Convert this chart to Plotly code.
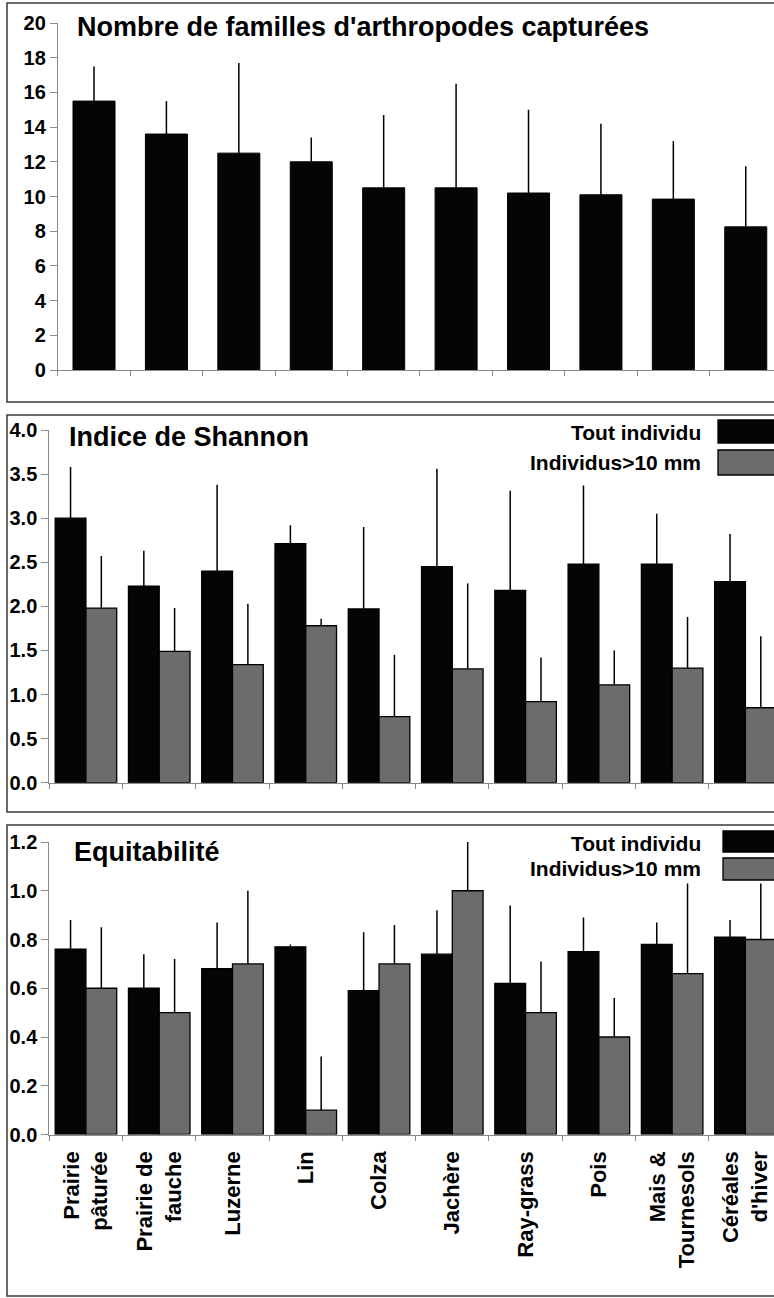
import plotly.graph_objects as go

# ---------------- data ----------------
categories = ["Prairie<br>pâturée", "Prairie de<br>fauche", "Luzerne", "Lin", "Colza",
              "Jachère", "Ray-grass", "Pois", "Mais &<br>Tournesols", "Céréales<br>d'hiver"]

familles = [15.5, 13.6, 12.5, 12.0, 10.5, 10.5, 10.2, 10.1, 9.85, 8.25]
familles_err = [2.0, 1.9, 5.2, 1.4, 4.2, 6.0, 4.8, 4.1, 3.35, 3.5]

shannon_tout = [3.0, 2.23, 2.40, 2.71, 1.97, 2.45, 2.18, 2.48, 2.48, 2.28]
shannon_tout_err = [0.58, 0.40, 0.98, 0.21, 0.93, 1.11, 1.13, 0.89, 0.57, 0.54]
shannon_10mm = [1.98, 1.49, 1.34, 1.78, 0.75, 1.29, 0.92, 1.11, 1.30, 0.85]
shannon_10mm_err = [0.59, 0.49, 0.69, 0.08, 0.70, 0.97, 0.50, 0.39, 0.58, 0.81]

equit_tout = [0.76, 0.60, 0.68, 0.77, 0.59, 0.74, 0.62, 0.75, 0.78, 0.81]
equit_tout_err = [0.12, 0.14, 0.19, 0.01, 0.24, 0.18, 0.32, 0.14, 0.09, 0.07]
equit_10mm = [0.60, 0.50, 0.70, 0.10, 0.70, 1.00, 0.50, 0.40, 0.66, 0.80]
equit_10mm_err = [0.25, 0.22, 0.30, 0.22, 0.16, 0.21, 0.21, 0.16, 0.37, 0.23]

titles = ["Nombre de familles d'arthropodes capturées", "Indice de Shannon", "Equitabilité"]
legend_labels = ["Tout individu", "Individus>10 mm"]

# ---------------- style ----------------
W, H = 774, 1298
FONT = "Liberation Sans, Arial, Helvetica, sans-serif"
BLACK = "#050505"
GRAY = "#6c6c6c"
AXIS = "#8a8a8a"


def py(p):
    return 1 - p / H


def px(p):
    return p / W


zeros = [0] * len(categories)

fig = go.Figure()


def err(arr):
    return dict(type="data", symmetric=False, array=arr, arrayminus=zeros,
                color="black", thickness=1.5, width=0)


fig.add_trace(go.Bar(x=categories, y=familles, width=0.58, marker=dict(color=BLACK, line=dict(color="black", width=1)),
                     error_y=err(familles_err), xaxis="x", yaxis="y", showlegend=False))

for (vals, errs, color, off, xa, ya) in [
    (shannon_tout, shannon_tout_err, BLACK, -0.42, "x2", "y2"),
    (shannon_10mm, shannon_10mm_err, GRAY, 0.0, "x2", "y2"),
    (equit_tout, equit_tout_err, BLACK, -0.42, "x3", "y3"),
    (equit_10mm, equit_10mm_err, GRAY, 0.0, "x3", "y3"),
]:
    fig.add_trace(go.Bar(x=categories, y=vals, width=0.42, offset=off,
                         marker=dict(color=color, line=dict(color="black", width=1.3)),
                         error_y=err(errs), xaxis=xa, yaxis=ya, showlegend=False))

tickfont = dict(family=FONT, size=20, color="black", weight="bold")
xrange_ = [-0.5, 9.39]

common_x = dict(type="category", range=xrange_, showline=True, linecolor=AXIS, linewidth=1,
                ticks="outside", tickson="boundaries", ticklen=5, tickcolor=AXIS,
                showgrid=False, zeroline=False, fixedrange=True, automargin=False)
common_y = dict(showline=True, linecolor=AXIS, linewidth=1, ticks="outside", ticklen=7,
                tickcolor=AXIS, showgrid=False, zeroline=False, tickfont=tickfont, automargin=False)

fig.update_layout(
    template="none",
    width=W, height=H,
    margin=dict(l=0, r=0, t=0, b=0, autoexpand=False),
    paper_bgcolor="white", plot_bgcolor="white",
    barmode="overlay",
    xaxis=dict(common_x, domain=[px(57.8), 1], anchor="y", showticklabels=False),
    yaxis=dict(common_y, domain=[py(370), py(23)], anchor="x", range=[0, 20], dtick=2),
    xaxis2=dict(common_x, domain=[px(49.3), 1], anchor="y2", showticklabels=False),
    yaxis2=dict(common_y, domain=[py(782.7), py(430)], anchor="x2", range=[0, 4], dtick=0.5, tickformat=".1f"),
    xaxis3=dict(common_x, domain=[px(49.3), 1], anchor="y3", showticklabels=True, tickangle=-90,
                ticklabelstandoff=7,
                tickfont=dict(family=FONT, size=22, color="black", weight="bold")),
    yaxis3=dict(common_y, domain=[py(1134.5), py(842)], anchor="x3", range=[0, 1.2], dtick=0.2, tickformat=".1f"),
)

# panel frames
shapes = []
for top, bot in [(3, 402), (415, 812), (825, 1296)]:
    shapes.append(dict(type="rect", xref="paper", yref="paper", x0=px(7), x1=1.01, y0=py(bot), y1=py(top),
                       line=dict(color="#3a3a3a", width=1.5), fillcolor="rgba(0,0,0,0)", layer="below"))

annotations = []
for t, x0, yc in zip(titles, [75, 67, 72], [27, 437, 852]):
    annotations.append(dict(text=t, xref="paper", yref="paper", x=px(x0), y=py(yc), xanchor="left",
                            yanchor="middle", showarrow=False,
                            font=dict(family=FONT, size=27, color="black", weight="bold")))

# legends (text left of swatch)
for (yc1, b1, yc2, b2, bx) in [(432, (420, 443), 463, (450, 475), 718), (843, (831, 852), 868, (858, 880), 723)]:
    for lab, yc, (b0, b1_), col in [(legend_labels[0], yc1, b1, BLACK), (legend_labels[1], yc2, b2, GRAY)]:
        annotations.append(dict(text=lab, xref="paper", yref="paper", x=px(703), y=py(yc), xanchor="right",
                                yanchor="middle", showarrow=False,
                                font=dict(family=FONT, size=21, color="black", weight="bold")))
        shapes.append(dict(type="rect", xref="paper", yref="paper", x0=px(bx), x1=1.01, y0=py(b1_), y1=py(b0),
                           line=dict(color="black", width=1.3), fillcolor=col))

fig.update_layout(shapes=shapes, annotations=annotations)

post = (
    "var s=document.createElement('style');"
    "s.textContent='html,body{margin:0!important;padding:0!important;overflow:hidden!important;"
    "width:774px;height:1298px;}';"
    "document.head.appendChild(s);"
)

fig.write_html("out.html", config={"displayModeBar": False, "staticPlot": True}, post_script=post)
